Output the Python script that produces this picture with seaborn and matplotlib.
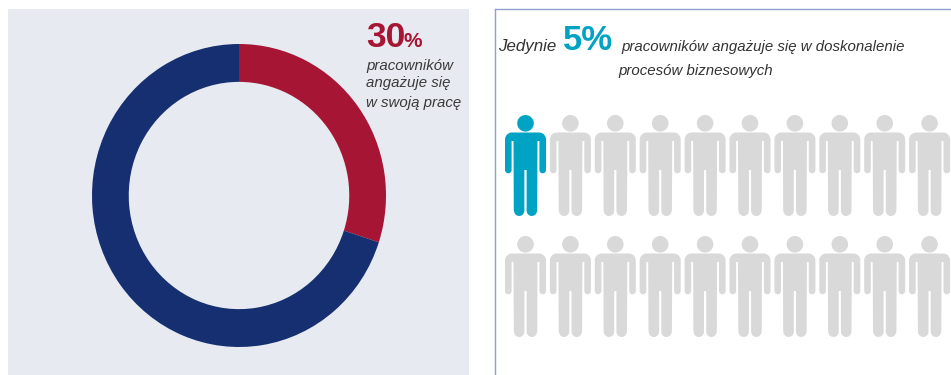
import numpy as np
import pandas as pd
import matplotlib
matplotlib.use("Agg")
import matplotlib.pyplot as plt
from matplotlib.path import Path
import seaborn as sns

W, H = 951, 375

# Data
engagement_labels = ["angażuje się", "pozostali"]
engagement_values = [30, 70]
engagement_colors = ["#A61533", "#152F70"]
improvement_share = 5
people_total = 20
people_per_row = 10
person_states = ["aktywny", "pozostali"]
person_colors = ["#00A3C4", "#D9D9D9"]

sns.set_theme(style="white")
plt.rcParams["font.family"] = ["Liberation Sans", "DejaVu Sans"]

fig = plt.figure(figsize=(W / 100, H / 100), dpi=100, facecolor="white")


def box(x0, y0, x1, y1):
    return [x0 / W, 1 - y1 / H, (x1 - x0) / W, (y1 - y0) / H]


def label(x, y, s, **kw):
    kw.setdefault("va", "baseline")
    fig.text(x / W, 1 - y / H, s, **kw)


# Donut panel: the ring is slightly taller than wide
ax_donut = fig.add_axes(box(8, 9, 469, 375), facecolor="#E7EAF0")
ax_donut.pie(
    engagement_values,
    colors=engagement_colors,
    startangle=90,
    counterclock=False,
    radius=1.0,
    frame=True,
    wedgeprops=dict(width=0.25, linewidth=0),
)
cx, cy, rx, ry = 239, 195.5, 147, 151.5
ax_donut.set_aspect("auto")
ax_donut.set_xlim((8 - cx) / rx, (469 - cx) / rx)
ax_donut.set_ylim((cy - 375) / ry, (cy - 9) / ry)
ax_donut.set_xticks([])
ax_donut.set_yticks([])
sns.despine(ax=ax_donut, left=True, bottom=True)

label(366, 47, str(engagement_values[0]), color=engagement_colors[0],
      fontsize=25.5, fontweight="bold")
label(404, 47, "%", color=engagement_colors[0], fontsize=15, fontweight="bold")
for y, line in zip((70, 87, 107), ("pracowników", "angażuje się", "w swoją pracę")):
    label(366, y, line, color="#3A3A3A", fontsize=10.8, fontstyle="italic")


def arc(cx, cy, r, a0, a1, n=14):
    t = np.radians(np.linspace(a0, a1, n))
    return np.column_stack([cx + r * np.cos(t), cy + r * np.sin(t)])


def person_marker():
    """Pictogram of a standing person, centred on the origin, y pointing up."""
    head = arc(0, 42.2, 8.3, 0, 360, 40)
    half = np.vstack([
        [[0, 33.0]],
        arc(13.5, 26.0, 7.0, 90, 0),             # shoulder
        [[20.5, -4.5]],
        arc(17.2, -4.5, 3.3, 0, -180),           # hand
        [[13.9, 24.5], [12.0, 24.5]],            # armpit
        [[11.7, -45.3]],
        arc(6.3, -45.3, 5.2, 0, -180, 10),       # foot
        [[1.1, -4.5], [0, -4.5]],
    ])
    mirrored = (half * [-1, 1])[::-1]
    body = np.vstack([half, mirrored[1:]])
    verts = np.vstack([head, head[:1], body, body[:1]])
    codes = (
        [Path.MOVETO] + [Path.LINETO] * (len(head) - 1) + [Path.CLOSEPOLY]
        + [Path.MOVETO] + [Path.LINETO] * (len(body) - 1) + [Path.CLOSEPOLY]
    )
    return Path(verts / 50.5, codes)


# Pictogram panel
x0_px, step_x, y0_px, step_y = 525.5, 44.9, 165.5, 121.0
ax_people = fig.add_axes(box(495, 9, W, H), facecolor="white")

people = pd.DataFrame({
    "kolumna": [i % people_per_row for i in range(people_total)],
    "rzad": [i // people_per_row for i in range(people_total)],
    "stan": [person_states[0] if i < people_total * improvement_share // 100 else person_states[1]
             for i in range(people_total)],
})
sns.scatterplot(
    data=people, x="kolumna", y="rzad", hue="stan",
    hue_order=person_states, palette=person_colors,
    marker=person_marker(), s=(101 * 0.72) ** 2, linewidth=0,
    legend=False, clip_on=False, ax=ax_people,
)
ax_people.set_xlim((495 - x0_px) / step_x, (W - x0_px) / step_x)
ax_people.set_ylim((H - y0_px) / step_y, (9 - y0_px) / step_y)
ax_people.set_xticks([])
ax_people.set_yticks([])
ax_people.set_xlabel("")
ax_people.set_ylabel("")
for side in ("right", "bottom"):
    ax_people.spines[side].set_visible(False)
for side in ("left", "top"):
    ax_people.spines[side].set_color("#8E9FD0")
    ax_people.spines[side].set_linewidth(1.0)

label(498, 50.5, "Jedynie", color="#333333", fontsize=12.2, fontstyle="italic")
label(563, 50.5, f"{improvement_share}%", color=person_colors[0], fontsize=25, fontweight="bold")
label(621, 50.5, "pracowników angażuje się w doskonalenie", color="#333333",
      fontsize=10.8, fontstyle="italic")
label(618, 75.5, "procesów biznesowych", color="#333333", fontsize=10.8, fontstyle="italic")

fig.savefig("out.png", dpi=100, facecolor="white")
